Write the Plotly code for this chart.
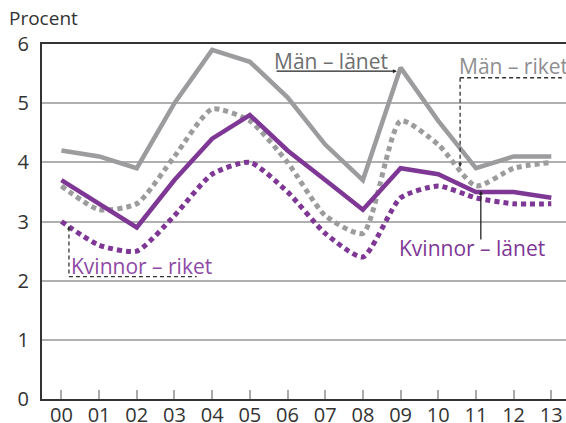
import plotly.graph_objects as go

years = ["00", "01", "02", "03", "04", "05", "06", "07", "08", "09", "10", "11", "12", "13"]
man_lanet = [4.2, 4.1, 3.9, 5.0, 5.9, 5.7, 5.1, 4.3, 3.7, 5.6, 4.7, 3.9, 4.1, 4.1]
man_riket = [3.6, 3.2, 3.3, 4.1, 4.9, 4.7, 4.0, 3.1, 2.8, 4.7, 4.3, 3.6, 3.9, 4.0]
kv_lanet = [3.7, 3.3, 2.9, 3.7, 4.4, 4.8, 4.2, 3.7, 3.2, 3.9, 3.8, 3.5, 3.5, 3.4]
kv_riket = [3.0, 2.6, 2.5, 3.1, 3.8, 4.0, 3.5, 2.8, 2.4, 3.4, 3.6, 3.4, 3.3, 3.3]
y_ticks = [0, 1, 2, 3, 4, 5, 6]

GRAY = "#9c9c9e"
PURPLE = "#7e3795"
FONT = "Open Sans"
LBL = 21

fig = go.Figure()
fig.add_trace(go.Scatter(x=years, y=man_riket, mode="lines",
                         line=dict(color=GRAY, width=5, dash="5px,4px", shape="spline", smoothing=0.6)))
fig.add_trace(go.Scatter(x=years, y=kv_riket, mode="lines",
                         line=dict(color=PURPLE, width=5, dash="5px,4px", shape="spline", smoothing=0.6)))
fig.add_trace(go.Scatter(x=years, y=man_lanet, mode="lines",
                         line=dict(color=GRAY, width=4.5)))
fig.add_trace(go.Scatter(x=years, y=kv_lanet, mode="lines",
                         line=dict(color=PURPLE, width=4.5)))

ann = []
# Män – länet
ann.append(dict(x=5.67, y=5.72, xref="x", yref="y", text="Män – länet", showarrow=False,
                xanchor="left", yanchor="middle", xshift=-3, font=dict(family=FONT, size=LBL, color="#6e6e70")))
ann.append(dict(x=8.9, y=5.54, ax=5.67, ay=5.54, xref="x", yref="y", axref="x", ayref="y",
                text="", showarrow=True, arrowhead=2, arrowsize=0.6, arrowwidth=1.3, arrowcolor="#222"))
# Män – riket
ann.append(dict(x=10.58, y=5.62, xref="x", yref="y", text="Män – riket", showarrow=False,
                xanchor="left", yanchor="middle", xshift=-3, font=dict(family=FONT, size=LBL, color="#8e8e90")))
ann.append(dict(x=10.58, y=3.92, ax=10.58, ay=4.02, xref="x", yref="y", axref="x", ayref="y",
                text="", showarrow=True, arrowhead=2, arrowsize=0.6, arrowwidth=1.3, arrowcolor="#333"))
# Kvinnor – länet
ann.append(dict(x=8.98, y=2.56, xref="x", yref="y", text="Kvinnor – länet", showarrow=False,
                xanchor="left", yanchor="middle", xshift=-3, font=dict(family=FONT, size=LBL, color=PURPLE)))
ann.append(dict(x=11.13, y=3.52, ax=11.13, ay=2.67, xref="x", yref="y", axref="x", ayref="y",
                text="", showarrow=True, arrowhead=2, arrowsize=0.6, arrowwidth=1.3, arrowcolor="#222"))
# Kvinnor – riket
ann.append(dict(x=0.27, y=2.24, xref="x", yref="y", text="Kvinnor – riket", showarrow=False,
                xanchor="left", yanchor="middle", xshift=-3, font=dict(family=FONT, size=LBL, color="#8d4aa6")))
ann.append(dict(x=0.2, y=2.93, ax=0.2, ay=2.83, xref="x", yref="y", axref="x", ayref="y",
                text="", showarrow=True, arrowhead=2, arrowsize=0.6, arrowwidth=1.3, arrowcolor="#333"))
# Procent
ann.append(dict(xref="paper", yref="paper", x=-0.0617, y=1.073, text="Procent", showarrow=False,
                xanchor="left", yanchor="middle", xshift=-3, font=dict(family=FONT, size=19, color="#333")))

shapes = [
    dict(type="line", xref="x", yref="y", x0=10.58, x1=13.28, y0=5.43, y1=5.43,
         line=dict(color="#333", width=1.3, dash="4px,3px")),
    dict(type="line", xref="x", yref="y", x0=10.58, x1=10.58, y0=5.43, y1=3.95,
         line=dict(color="#333", width=1.3, dash="4px,3px")),
    dict(type="line", xref="x", yref="y", x0=0.2, x1=0.2, y0=2.9, y1=2.07,
         line=dict(color="#333", width=1.3, dash="4px,3px")),
    dict(type="line", xref="x", yref="y", x0=0.2, x1=3.59, y0=2.07, y1=2.07,
         line=dict(color="#333", width=1.3, dash="4px,3px")),
]

fig.update_layout(
    width=566, height=423,
    margin=dict(l=42.3, r=0, t=43.5, b=23.7, autoexpand=False),
    paper_bgcolor="white", plot_bgcolor="white",
    showlegend=False,
    font=dict(family=FONT, color="#333"),
    annotations=ann,
    shapes=shapes,
)

fig.update_xaxes(type="category", range=[-0.515, 13.39], showgrid=False, automargin=False,
                 showline=True, linecolor="#333", linewidth=2, mirror=True,
                 ticks="inside", ticklen=9, tickwidth=1.5, tickcolor="#aaa",
                 tickfont=dict(family=FONT, size=20, color="#333"), zeroline=False,
                 ticklabelstandoff=-3)
fig.update_yaxes(range=[0, 6], tickvals=y_ticks, showgrid=True, gridcolor="#b0b0b0", gridwidth=1.5,
                 automargin=False,
                 showline=True, linecolor="#333", linewidth=2, ticks="", zeroline=False,
                 tickfont=dict(family=FONT, size=20, color="#333"), ticklabelstandoff=7)

fig.write_html("out.html", config={"displayModeBar": False},
               post_script="document.body.style.margin='0';document.body.style.overflow='hidden';")
